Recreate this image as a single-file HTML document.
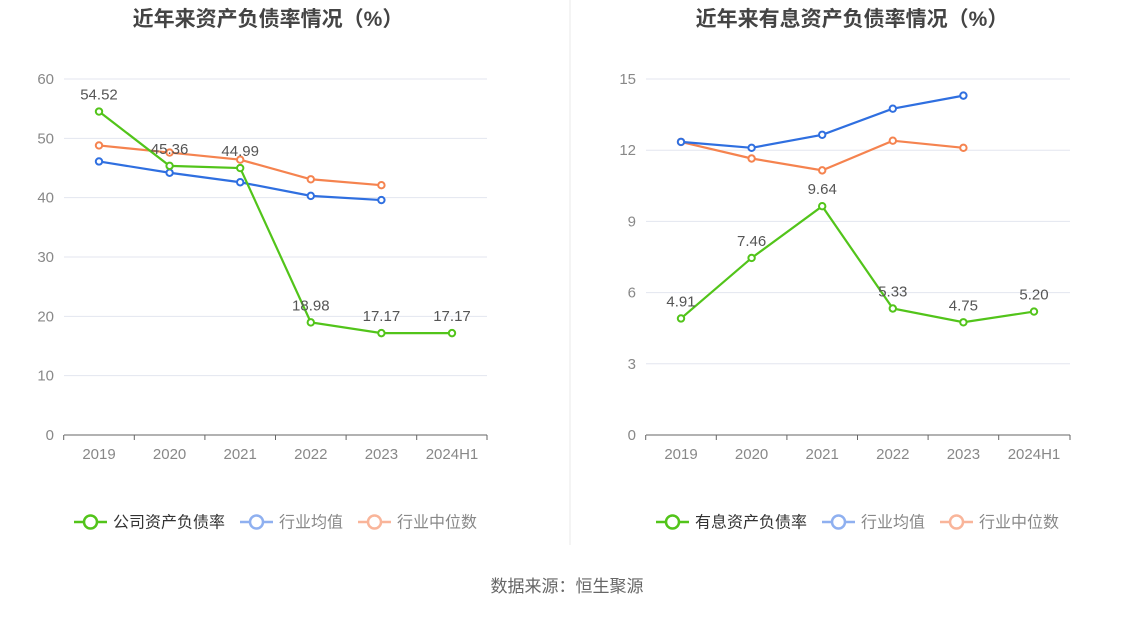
<!DOCTYPE html>
<html><head><meta charset="utf-8"><style>
body{margin:0;background:#fff;font-family:"Liberation Sans","Noto Sans CJK SC",sans-serif;}
svg text{font-family:"Liberation Sans","Noto Sans CJK SC",sans-serif;}
</style></head><body>
<svg id="s" width="1134" height="612" xmlns="http://www.w3.org/2000/svg">
<line x1="570" y1="0" x2="570" y2="545" stroke="#e8e8e8"/>
<text x="567" y="592" font-size="17" fill="#666" text-anchor="middle">数据来源：恒生聚源</text>
</svg>
<script>
const categories=["2019","2020","2021","2022","2023","2024H1"];
const leftCompany=[54.52,45.36,44.99,18.98,17.17,17.17];
const leftAvg=[46.1,44.2,42.6,40.3,39.6];
const leftMedian=[48.8,47.6,46.4,43.1,42.1];
const leftTicks=[0,10,20,30,40,50,60];
const rightCompany=[4.91,7.46,9.64,5.33,4.75,5.20];
const rightAvg=[12.35,12.1,12.65,13.75,14.3];
const rightMedian=[12.35,11.65,11.15,12.4,12.1];
const rightTicks=[0,3,6,9,12,15];
const svg=document.getElementById('s');
const NS="http://www.w3.org/2000/svg";
function mk(t,a,p){const e=document.createElementNS(NS,t);for(const k in a)e.setAttribute(k,a[k]);(p||svg).appendChild(e);return e;}
function panel(o){
  const g=mk('g',{});
  
  
  const y0=435,y1=79,max=o.ticks[o.ticks.length-1];
  const ys=v=>y0-(v/max)*(y0-y1);
  const xs=i=>o.x0+i*70.6;
  const t=mk('text',{x:o.cx,y:26,'font-size':21,'font-weight':'bold',fill:'#444','text-anchor':'middle'},g);t.textContent=o.title;
  
  o.ticks.forEach(v=>{
    if(v>0){const l=mk('line',{x1:o.ax0,x2:o.ax1,y1:ys(v),y2:ys(v),stroke:'#e3e6ef'},g);}
    const tt=mk('text',{x:o.ax0-10,y:ys(v)+5,'font-size':15,fill:'#888','text-anchor':'end'},g);tt.textContent=v;
    
  });
  const ax=mk('line',{x1:o.ax0,x2:o.ax1,y1:y0,y2:y0,stroke:'#666'},g);
  
  categories.forEach((c,i)=>{
    mk('line',{x1:xs(i)-35.3,x2:xs(i)-35.3,y1:y0,y2:y0+5,stroke:'#666'},g);
    const tt=mk('text',{x:xs(i),y:459,'font-size':15,fill:'#888','text-anchor':'middle'},g);tt.textContent=c;
    
  });
  mk('line',{x1:o.ax1,x2:o.ax1,y1:y0,y2:y0+5,stroke:'#666'},g);
  const series=[[o.median,'#f5834f','median-line'],[o.avg,'#2f6fe0','average-line'],[o.company,'#52c41a','company-line']];
  series.forEach(([d,col,nm])=>{
    const p=mk('polyline',{points:d.map((v,i)=>xs(i)+','+ys(v)).join(' '),fill:'none',stroke:col,'stroke-width':2.2},g);
    
    d.forEach((v,i)=>{const c=mk('circle',{cx:xs(i),cy:ys(v),r:3.2,fill:'#fff',stroke:col,'stroke-width':2},g);
      });
  });
  o.company.forEach((v,i)=>{const tt=mk('text',{x:xs(i),y:ys(v)-12,'font-size':15,fill:'#555','text-anchor':'middle'},g);
    tt.textContent=v.toFixed(2);});
  const lg=[[o.l1,'#52c41a','#333'],['行业均值','#8fb0f0','#888'],['行业中位数','#f9b59a','#888']];
  let x=o.lx;
  lg.forEach(([txt,col,tc])=>{
    const e=mk('g',{},g);
    mk('line',{x1:x,x2:x+33,y1:522,y2:522,stroke:col,'stroke-width':2.5},e);
    mk('circle',{cx:x+16.5,cy:522,r:6.5,fill:'#fff',stroke:col,'stroke-width':2.5},e);
    const tt=mk('text',{x:x+39,y:527.5,'font-size':16,fill:tc},e);tt.textContent=txt;
    x+=39+txt.length*16+15;
  });
}
panel({name:'left-chart',title:'近年来资产负债率情况（%）',cx:268,x0:99,ax0:64,ax1:487,ticks:leftTicks,company:leftCompany,avg:leftAvg,median:leftMedian,l1:'公司资产负债率',lx:74});
panel({name:'right-chart',title:'近年来有息资产负债率情况（%）',cx:852,x0:681,ax0:646,ax1:1070,ticks:rightTicks,company:rightCompany,avg:rightAvg,median:rightMedian,l1:'有息资产负债率',lx:656});
</script>
</body></html>
